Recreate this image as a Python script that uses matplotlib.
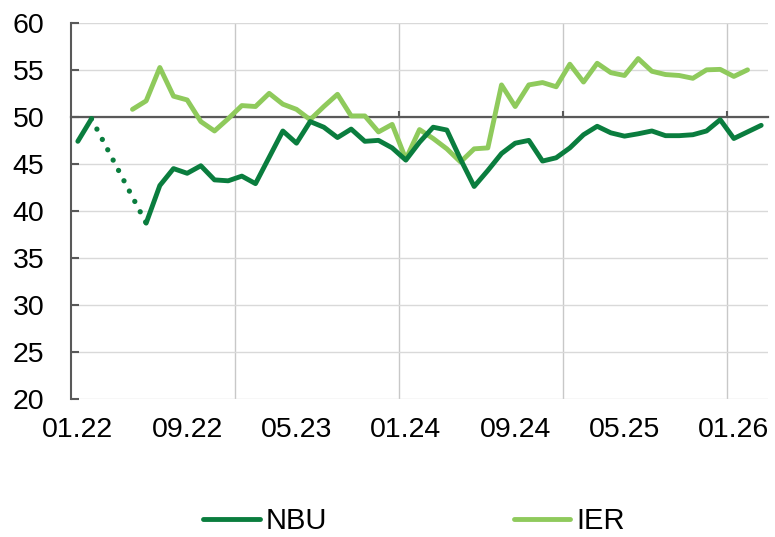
import numpy as np
import matplotlib as mpl
import matplotlib.pyplot as plt

mpl.use('Agg')
plt.rcParams['font.family'] = ['Liberation Sans', 'DejaVu Sans']
plt.rcParams['font.size'] = 20.5

nan = np.nan

# monthly, 01.22 .. 03.26 (51 months)
nbu = [47.4, 49.8, nan, nan, nan, 38.7, 42.7, 44.5, 44.0, 44.8,
       43.3, 43.2, 43.7, 42.9, 45.7, 48.5, 47.2, 49.5, 48.9, 47.8,
       48.7, 47.4, 47.5, 46.7, 45.4, 47.3, 48.9, 48.6, 45.5, 42.6,
       44.3, 46.1, 47.2, 47.5, 45.3, 45.65, 46.7, 48.1, 49.0, 48.3,
       47.95, 48.2, 48.5, 48.0, 48.0, 48.1, 48.5, 49.7, 47.7, 48.4,
       49.1]
ier = [nan, nan, nan, nan, 50.8, 51.7, 55.25, 52.2, 51.8, 49.5,
       48.5, 49.8, 51.2, 51.1, 52.5, 51.35, 50.8, 49.7, 51.1, 52.4,
       50.1, 50.1, 48.4, 49.2, 45.5, 48.65, 47.7, 46.6, 45.2, 46.6,
       46.7, 53.4, 51.1, 53.4, 53.65, 53.2, 55.6, 53.7, 55.7, 54.7,
       54.4, 56.2, 54.85, 54.5, 54.4, 54.1, 55.0, 55.05, 54.3, 55.0,
       nan]

tick_labels = ["01.22", "09.22", "05.23", "01.24", "09.24", "05.25", "01.26"]
tick_step = 8       # label every 8 months
year_len = 12       # gridlines between december and january

c_nbu = "#0a7d3e"
c_ier = "#8fca5c"
c_axis = "#595959"
c_grid = "#d9d9d9"

x = np.arange(len(nbu))
nbu = np.array(nbu)
ier = np.array(ier)

fig = plt.figure(figsize=(7.75, 5.37), dpi=100)
ax = fig.add_axes([0.0916, 0.257, 0.8994, 0.7005])

ax.plot(x, nbu, color=c_nbu, lw=3.5, solid_capstyle='round', solid_joinstyle='round', zorder=3, label="NBU")
ax.plot(x, ier, color=c_ier, lw=3.5, solid_capstyle='round', solid_joinstyle='round', zorder=2.5, label="IER")

# dotted bridge over the missing months of NBU
valid = np.where(~np.isnan(nbu))[0]
gap = np.where(np.diff(valid) > 1)[0][0]
i0, i1 = valid[gap], valid[gap + 1]
ax.plot([x[i0], x[i1]], [nbu[i0], nbu[i1]], color=c_nbu, lw=3.8,
        linestyle=(0, (0.01, 2.2)), dash_capstyle='round', zorder=3)

ax.set_xlim(-0.5, len(nbu) - 0.5)
ax.set_ylim(20, 60)
ax.set_yticks(np.arange(20, 61, 5))
ax.set_xticks(np.arange(0, len(nbu), tick_step)[:len(tick_labels)], tick_labels)
year_edges = np.arange(year_len - 0.5, len(nbu) - 0.5, year_len)
ax.set_xticks(year_edges, minor=True)

ax.set_axisbelow(True)
ax.grid(axis='y', which='major', color=c_grid, lw=1.0)
ax.grid(axis='x', which='minor', color="#c8c8c8", lw=1.0)
ax.tick_params(axis='x', which='both', length=0, pad=13)
ax.tick_params(axis='y', direction='in', length=6, width=1.5, color=c_axis, pad=19)

for s in ['top', 'right', 'bottom']:
    ax.spines[s].set_visible(False)
ax.spines['left'].set_color(c_axis)
ax.spines['left'].set_linewidth(1.5)

# horizontal axis crossing at 50, with tick marks at year boundaries
sec = ax.secondary_xaxis(50, transform=ax.transData)
sec.set_xticks(year_edges, [""] * len(year_edges))
sec.tick_params(direction='out', length=4.5, width=1.5, color=c_axis)
for s in sec.spines.values():
    s.set_color(c_axis)
    s.set_linewidth(1.6)
sec.set_zorder(1)

handles, labels = ax.get_legend_handles_labels()
fig.legend(handles, labels, loc='center', bbox_to_anchor=(0.534, 0.03), ncol=2,
           frameon=False, handlelength=1.95, handletextpad=0.2, columnspacing=6.4,
           fontsize=21)

fig.savefig("out.png", dpi=100)
